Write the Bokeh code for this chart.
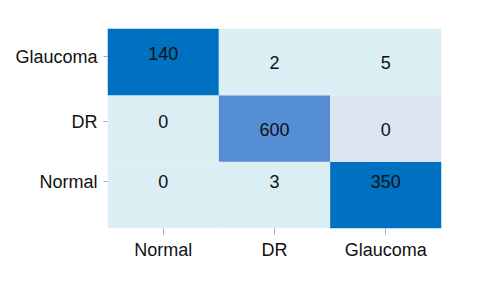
from bokeh.plotting import figure
from bokeh.models import ColumnDataSource, FixedTicker, Range1d
from bokeh.embed import file_html
from bokeh.resources import INLINE
from bokeh.core.properties import value

# Categories (x: predicted, y: actual; rows listed bottom -> top)
classes = ["Normal", "DR", "Glaucoma"]

# Confusion matrix counts, counts[row][col]
counts_normal = [0, 3, 350]
counts_dr = [0, 600, 0]
counts_glaucoma = [140, 2, 5]
counts = [counts_normal, counts_dr, counts_glaucoma]

# Cell fill colours (style)
LIGHT, DARK, MED, PALE = "#DAEEF3", "#0070C0", "#558ED5", "#DCE6F2"
cell_colors = [[LIGHT, LIGHT, DARK],
               [LIGHT, MED, PALE],
               [DARK, LIGHT, LIGHT]]
# Label pixel offsets from cell centre (style, positive = down)
label_dy = [[-14, -14, -14],
            [-7, 1, 1],
            [-8, 1, 1]]
# Tick label lift per row (style, data units)
tick_lift = [0.2, 0.1, 0.08]

xs, ys, vals, cols, dys = [], [], [], [], []
for r in range(len(classes)):
    for c in range(len(classes)):
        xs.append(c + 0.5)
        ys.append(r + 0.5)
        vals.append(str(counts[r][c]))
        cols.append(cell_colors[r][c])
        dys.append(label_dy[r][c])

src = ColumnDataSource(dict(x=xs, y=ys, v=vals, color=cols, dy=dys))

p = figure(width=472, height=288, output_backend="svg", toolbar_location=None,
           x_range=Range1d(0, 3), y_range=Range1d(0, 3),
           min_border_left=107, min_border_right=31, min_border_top=28, min_border_bottom=60)
p.rect(x="x", y="y", width=1, height=1, source=src, fill_color="color", line_color=None)
p.text(x="x", y="y", text="v", source=src, y_offset="dy",
       text_align="center", text_baseline="middle",
       text_font=value("Liberation Sans"), text_font_size="18px", text_color="#111111")

p.xgrid.visible = False
p.ygrid.visible = False
p.outline_line_color = None
p.background_fill_color = "white"
p.border_fill_color = "white"

xt = [i + 0.5 for i in range(len(classes))]
yt = [i + 0.5 + tick_lift[i] for i in range(len(classes))]
p.xaxis.ticker = FixedTicker(ticks=xt)
p.yaxis.ticker = FixedTicker(ticks=yt)
p.xaxis.major_label_overrides = {t: n for t, n in zip(xt, classes)}
p.yaxis.major_label_overrides = {t: n for t, n in zip(yt, classes)}

for ax in (p.xaxis, p.yaxis):
    ax.axis_line_color = None
    ax.minor_tick_line_color = None
    ax.major_tick_in = 0
    ax.major_tick_line_color = "#8EA9DB"
    ax.major_label_text_font = "Liberation Sans"
    ax.major_label_text_font_size = "18px"
    ax.major_label_text_color = "#111111"
p.xaxis.major_tick_out = 6
p.yaxis.major_tick_out = 4
p.xaxis.major_label_standoff = 5
p.yaxis.major_label_standoff = 6

open("out.html", "w").write(file_html(p, INLINE))
